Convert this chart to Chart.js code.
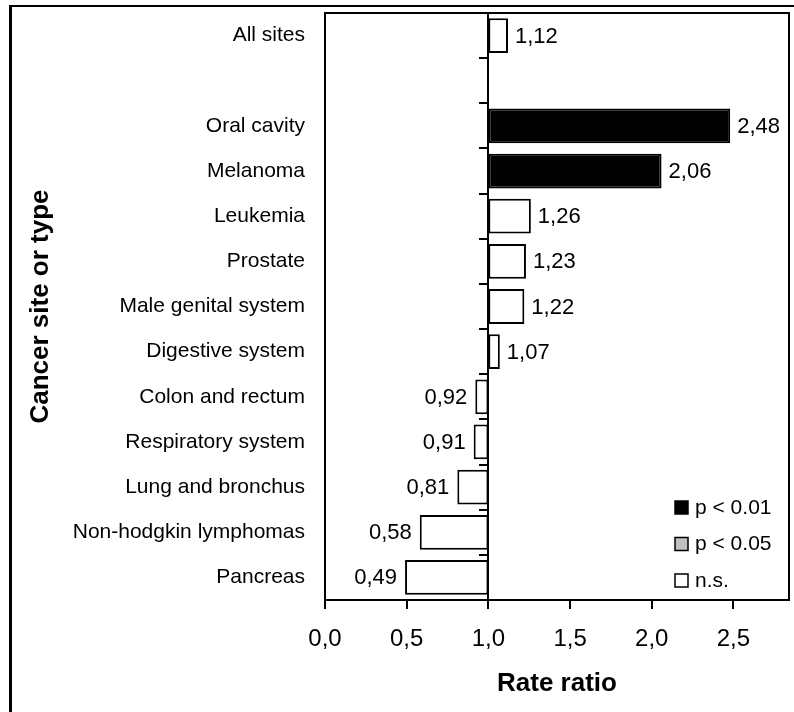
<!DOCTYPE html>
<html>
<head>
<meta charset="utf-8">
<script src="https://cdn.jsdelivr.net/npm/chart.js@4.4.1/dist/chart.umd.min.js"></script>
<style>
  html, body { margin: 0; padding: 0; background: #fff; overflow: hidden; }
  #wrap { position: relative; width: 794px; height: 712px; }
  #frame { position: absolute; left: 9px; top: 5px; width: 900px; height: 900px;
           border-top: 2px solid #000; border-left: 3px solid #000; pointer-events: none; }
</style>
</head>
<body>
<div id="wrap">
  <canvas id="chart"></canvas>
  <div id="frame"></div>
</div>
<script>
// Categories (top to bottom), the empty one is the gap after "All sites"
const categories = ['All sites', '', 'Oral cavity', 'Melanoma', 'Leukemia', 'Prostate',
  'Male genital system', 'Digestive system', 'Colon and rectum', 'Respiratory system',
  'Lung and bronchus', 'Non-hodgkin lymphomas', 'Pancreas'];
const rateRatios = [1.12, null, 2.48, 2.06, 1.26, 1.23, 1.22, 1.07, 0.92, 0.91, 0.81, 0.58, 0.49];
const significance = ['ns', null, 'p01', 'p01', 'ns', 'ns', 'ns', 'ns', 'ns', 'ns', 'ns', 'ns', 'ns'];
const xTicks = [0, 0.5, 1, 1.5, 2, 2.5];
const legendKeys = ['p01', 'p05', 'ns'];
const legendLabels = ['p < 0.01', 'p < 0.05', 'n.s.'];

const sigColors = { p01: '#000000', p05: '#c0c0c0', ns: '#ffffff' };
const fmt = v => v.toFixed(2).replace('.', ',');

// frame round the plot, value labels and legend
const extras = {
  id: 'extras',
  afterDatasetsDraw(chart) {
    const { ctx, chartArea: a } = chart;
    ctx.save();
    ctx.strokeStyle = '#000';
    ctx.lineWidth = 2;
    ctx.strokeRect(a.left, a.top, a.right - a.left, a.bottom - a.top);

    // value labels
    ctx.font = '22px "Liberation Sans", Arial, sans-serif';
    ctx.fillStyle = '#000';
    ctx.textBaseline = 'middle';
    chart.getDatasetMeta(0).data.forEach((bar, i) => {
      const v = rateRatios[i];
      if (v == null) return;
      if (v >= 1) {
        ctx.textAlign = 'left';
        ctx.fillText(fmt(v), Math.max(bar.x, bar.base) + 7, bar.y + 1);
      } else {
        ctx.textAlign = 'right';
        ctx.fillText(fmt(v), Math.min(bar.x, bar.base) - 8, bar.y + 1);
      }
    });

    // legend
    ctx.font = '21px "Liberation Sans", Arial, sans-serif';
    ctx.textAlign = 'left';
    legendKeys.forEach((k, i) => {
      const cy = a.bottom - 93 + i * 36.5;
      ctx.fillStyle = sigColors[k];
      ctx.fillRect(a.right - 114, cy - 6, 13, 13);
      ctx.lineWidth = 1.5;
      ctx.strokeStyle = '#000';
      ctx.strokeRect(a.right - 114, cy - 6, 13, 13);
      ctx.fillStyle = '#000';
      ctx.fillText(legendLabels[i], a.right - 94, cy + 1);
    });
    ctx.restore();
  }
};

new Chart(document.getElementById('chart'), {
  type: 'bar',
  data: {
    labels: categories,
    datasets: [{
      data: rateRatios.map(v => v == null ? null : [1, v]),
      backgroundColor: significance.map(s => sigColors[s] || '#fff'),
      borderColor: '#000',
      borderWidth: 2,
      borderSkipped: false,
      barPercentage: 0.77,
      categoryPercentage: 1
    }]
  },
  options: {
    indexAxis: 'y',
    responsive: true,
    maintainAspectRatio: false,
    animation: false,
    layout: { padding: { top: 13, right: 5, bottom: 13, left: 10 } },
    plugins: { legend: { display: false }, tooltip: { enabled: false } },
    scales: {
      x: {
        type: 'linear',
        min: 0,
        max: 2.84,
        afterBuildTicks: s => { s.ticks = xTicks.map(v => ({ value: v })); },
        afterFit: s => { s.height = 99; s.paddingLeft = 0; s.paddingRight = 0; },
        ticks: {
          color: '#000',
          padding: 16,
          font: { family: '"Liberation Sans", Arial, sans-serif', size: 24 },
          callback: v => v.toFixed(1).replace('.', ',')
        },
        grid: { drawOnChartArea: false, tickLength: 9, color: '#000', lineWidth: 2 },
        border: { color: '#000', width: 2 },
        title: {
          display: true,
          text: 'Rate ratio',
          color: '#000',
          font: { family: '"Liberation Sans", Arial, sans-serif', size: 26, weight: 'bold' },
          padding: { top: 17, bottom: 0 }
        }
      },
      y: {
        type: 'category',
        position: 'left',
        afterFit: s => { s.width = 315; s.paddingTop = 0; s.paddingBottom = 0; },
        ticks: {
          color: '#000',
          padding: 20,
          autoSkip: false,
          font: { family: '"Liberation Sans", Arial, sans-serif', size: 21 }
        },
        grid: { display: false, drawTicks: false },
        border: { display: false },
        title: {
          display: true,
          text: 'Cancer site or type',
          color: '#000',
          font: { family: '"Liberation Sans", Arial, sans-serif', size: 26, weight: 'bold' },
          padding: { top: 15, bottom: 0 }
        }
      },
      y2: {
        type: 'category',
        axis: 'y',
        position: { x: 1 },
        offset: true,
        afterFit: s => { s.paddingTop = 0; s.paddingBottom = 0; },
        ticks: { display: false },
        grid: { offset: true, drawOnChartArea: false, tickLength: 8, color: '#000', lineWidth: 2 },
        border: { color: '#000', width: 2 }
      }
    }
  },
  plugins: [extras]
});
</script>
</body>
</html>
